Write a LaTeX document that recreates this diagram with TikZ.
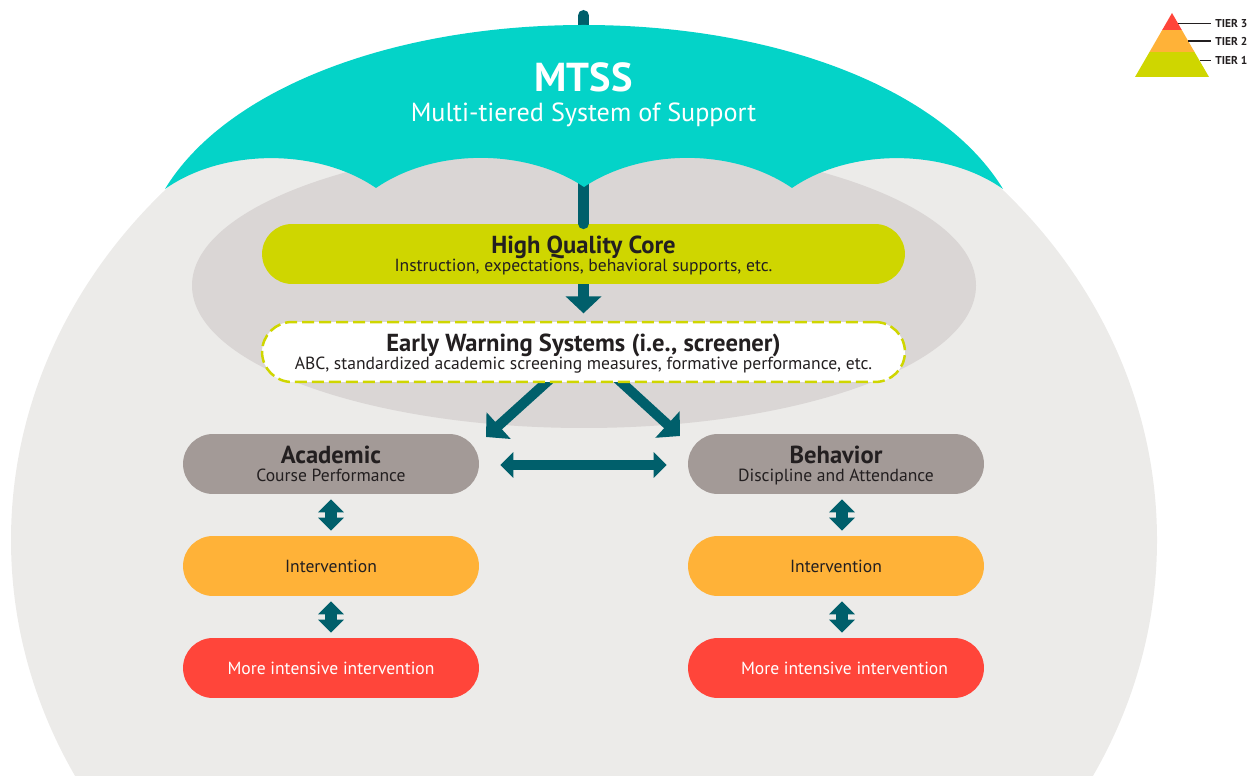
\documentclass[tikz,border=0pt]{standalone}
\usepackage{xcolor}
\usepackage{fontspec}
\usetikzlibrary{arrows.meta}
\setmainfont{PT Sans}

\definecolor{umbrellateal}{HTML}{04D3C8}
\definecolor{poleteal}{HTML}{005F6B}
\definecolor{coreolive}{HTML}{CFD600}
\definecolor{outergray}{HTML}{ECEBE9}
\definecolor{innergray}{HTML}{DAD6D5}
\definecolor{domaingray}{HTML}{A39A97}
\definecolor{tierorange}{HTML}{FFB238}
\definecolor{tierred}{HTML}{FF453A}
\definecolor{inkdark}{HTML}{231F20}

\newcommand{\headfont}{\fontsize{14}{10}\selectfont\bfseries}
\newcommand{\subfont}{\fontsize{10}{10}\selectfont}
\newcommand{\pilltext}[2]{{\headfont\rule{0pt}{11.7pt}#1}\\[-1.7pt] \subfont\rule[-2pt]{0pt}{5pt}#2}

\tikzset{
  pill/.style={rounded corners=0.6cm, minimum height=1.2cm, inner sep=0pt, align=center, text=inkdark},
  widepill/.style={pill, minimum width=12.86cm},
  boxpill/.style={pill, minimum width=5.92cm},
  flow/.style={draw=poleteal, line width=0.2cm, -{Triangle[length=0.34cm,width=0.7cm]}},
  across/.style={draw=poleteal, line width=0.2cm, {Triangle[length=0.26cm,width=0.5cm]}-{Triangle[length=0.26cm,width=0.5cm]}},
  updown/.style={draw=poleteal, line width=0.24cm, {Triangle[length=0.26cm,width=0.5cm]}-{Triangle[length=0.26cm,width=0.5cm]}, shorten <=0.1cm, shorten >=0.1cm},
  tierlabel/.style={anchor=west, inner sep=0pt, text=inkdark, font=\fontsize{6.5}{7}\selectfont\bfseries},
}

\begin{document}
\begin{tikzpicture}[x=0.02cm,y=-0.02cm]
\useasboundingbox (0,0) rectangle (1254,776);
\clip (0,0) rectangle (1254,776);

% background
\fill[outergray] (584,540) ellipse [x radius=573, y radius=513];
\fill[innergray] (584,285.5) ellipse [x radius=392, y radius=142.5];

% arrows behind the dashed box
\coordinate (warnleft) at (559,371);
\coordinate (warnright) at (609,371);
\coordinate (tipleft) at (486,437);
\coordinate (tipright) at (680,436);
\draw[flow] (warnleft) -- (tipleft);
\draw[flow] (warnright) -- (tipright);

% boxes
\node[widepill, fill=coreolive] (core) at (583.5,254) {\pilltext{High Quality Core}{Instruction, expectations, behavioral supports, etc.}};
\node[widepill, fill=white, draw=coreolive, line width=0.05cm, dash pattern=on 0.24cm off 0.1cm] (warning) at (583.5,352) {\pilltext{Early Warning Systems (i.e., screener)}{ABC, standardized academic screening measures, formative performance, etc.}};
\node[boxpill, fill=domaingray] (academic) at (331,464) {\pilltext{Academic}{Course Performance}};
\node[boxpill, fill=domaingray] (behavior) at (836,464) {\pilltext{Behavior}{Discipline and Attendance}};
\node[boxpill, fill=tierorange] (interacad) at (331,566) {\subfont Intervention};
\node[boxpill, fill=tierorange] (interbeh) at (836,566) {\subfont Intervention};
\node[boxpill, fill=tierred, text=white] (moreacad) at (331,668) {\subfont More intensive intervention};
\node[boxpill, fill=tierred, text=white] (morebeh) at (836,668) {\hspace{0.34cm}\subfont More intensive intervention};

% umbrella
\coordinate (poletop) at (583.5,15.5);
\draw[poleteal, line width=0.22cm, line cap=round] (poletop) -- (core.north -| poletop);
\fill[umbrellateal] (165,189) .. controls (225,90) and (390,25) .. (584,25)
  .. controls (778,25) and (943,90) .. (1003,189)
  .. controls (945,148) and (850,148) .. (792,188)
  .. controls (734,148) and (642,148) .. (584,187)
  .. controls (526,148) and (434,148) .. (376,188)
  .. controls (318,148) and (223,148) .. (165,189) -- cycle;
\node[text=white, inner sep=0pt, font=\fontsize{23}{24}\selectfont\bfseries] (title) at (583.5,77) {MTSS};
\node[text=white, inner sep=0pt, font=\fontsize{14.9}{17}\selectfont] (subtitle) at (583.5,115) {Multi-tiered System of Support};

% arrows
\draw[flow, line width=0.22cm, shorten >=0pt] (core.south -| poletop) -- ++(0,29);
\draw[across, shorten <=0.42cm, shorten >=0.42cm] ([yshift=-0.02cm]academic.east) -- ([yshift=-0.02cm]behavior.west);
\draw[updown] (academic.south) -- (interacad.north);
\draw[updown] (interacad.south) -- (moreacad.north);
\draw[updown] ([xshift=0.12cm]behavior.south) -- ([xshift=0.12cm]interbeh.north);
\draw[updown] ([xshift=0.12cm]interbeh.south) -- ([xshift=0.12cm]morebeh.north);

% tier legend
\fill[coreolive] (1135,77) -- (1149.5,52) -- (1194.5,52) -- (1209,77) -- cycle;
\fill[tierorange] (1149.5,52) -- (1162.2,30) -- (1181.8,30) -- (1194.5,52) -- cycle;
\fill[tierred] (1162.2,30) -- (1172,13) -- (1181.8,30) -- cycle;
\node[tierlabel] (tierthree) at (1215,23.5) {TIER 3};
\node[tierlabel] (tiertwo) at (1215,41) {TIER 2};
\node[tierlabel] (tierone) at (1215,60.5) {TIER 1};
\coordinate (redside) at (1178,23.5);
\coordinate (orangeside) at (1188,41);
\coordinate (oliveside) at (1200,60.5);
\draw[inkdark, line width=0.025cm] (redside) -- ([xshift=-0.08cm]tierthree.west);
\draw[inkdark, line width=0.025cm] (orangeside) -- ([xshift=-0.08cm]tiertwo.west);
\draw[inkdark, line width=0.025cm] (oliveside) -- ([xshift=-0.08cm]tierone.west);
\end{tikzpicture}
\end{document}
